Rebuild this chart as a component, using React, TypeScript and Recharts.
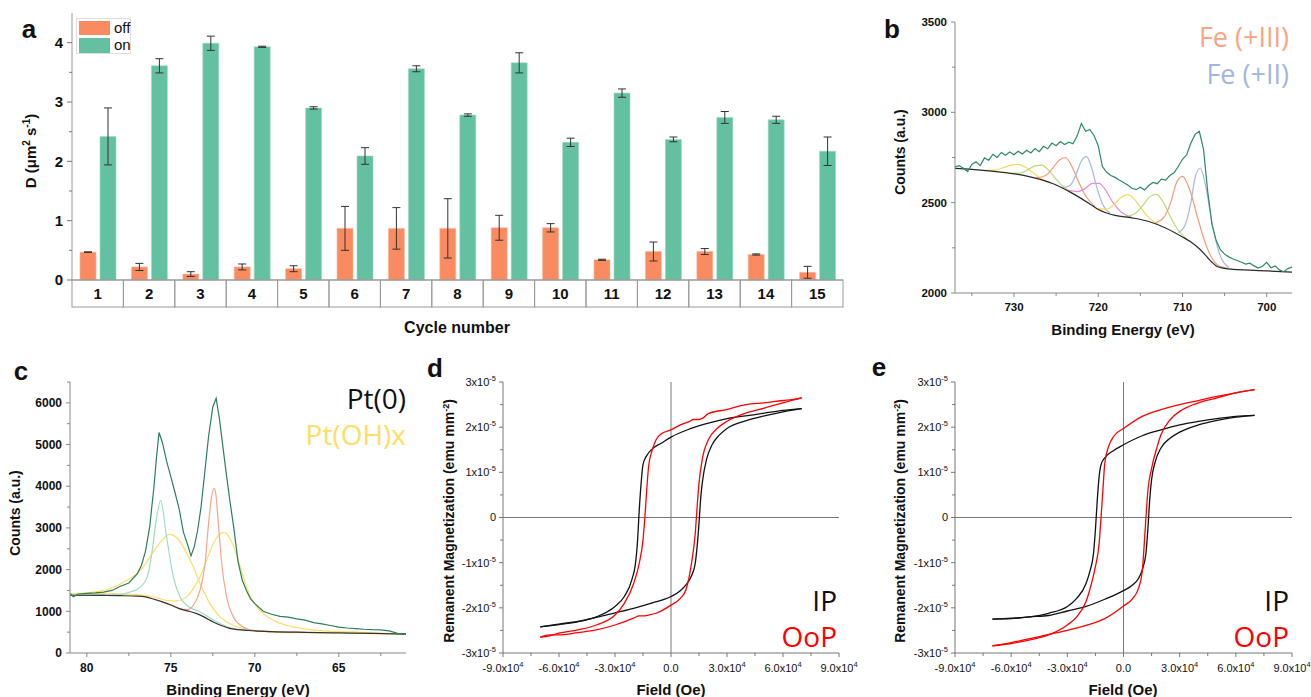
import React from 'react';
import { BarChart, Bar, ErrorBar, LineChart, Line, XAxis, YAxis, ReferenceLine } from 'recharts';

const FONT = '"Liberation Sans", Arial, sans-serif';
const ANNOT = '"Open Sans", "Noto Sans", sans-serif';

// ---------------- panel a ----------------
const cycles = ['1', '2', '3', '4', '5', '6', '7', '8', '9', '10', '11', '12', '13', '14', '15'];
const offValues = [0.47, 0.22, 0.1, 0.22, 0.19, 0.87, 0.87, 0.87, 0.88, 0.88, 0.34, 0.48, 0.48, 0.43, 0.13];
const offErrors = [0.005, 0.06, 0.04, 0.05, 0.05, 0.37, 0.35, 0.5, 0.21, 0.07, 0.01, 0.16, 0.05, 0.01, 0.1];
const onValues = [2.42, 3.61, 3.99, 3.93, 2.9, 2.09, 3.56, 2.78, 3.66, 2.32, 3.15, 2.37, 2.74, 2.7, 2.17];
const onErrors = [0.48, 0.12, 0.12, 0.01, 0.02, 0.14, 0.05, 0.02, 0.17, 0.07, 0.07, 0.04, 0.1, 0.06, 0.24];
const aYTicks = [0, 0.5, 1, 1.5, 2, 2.5, 3, 3.5, 4];

// ---------------- panel b (Fe 2p) ----------------
const bMeasured: number[][] = [
  [737, 2698], [736.5, 2705], [736, 2690], [735.5, 2672], [735, 2712], [734.5, 2726], [734, 2705], [733.5, 2748],
  [733, 2735], [732.5, 2768], [732, 2750], [731.5, 2778], [731, 2762], [730.5, 2780], [730, 2765], [729.5, 2785],
  [729, 2770], [728.5, 2790], [728, 2775], [727.5, 2800], [727, 2782], [726.5, 2812], [726, 2798], [725.5, 2830],
  [725, 2815], [724.5, 2838], [724, 2822], [723.5, 2835], [723, 2826], [722.5, 2870], [722, 2938], [721.5, 2895],
  [721, 2905], [720.5, 2872], [720, 2815], [719.5, 2700], [719, 2668], [718.5, 2650], [718, 2640], [717.5, 2625],
  [717, 2612], [716.5, 2598], [716, 2580], [715.5, 2572], [715, 2585], [714.5, 2570], [714, 2595], [713.5, 2612],
  [713, 2605], [712.5, 2630], [712, 2625], [711.5, 2650], [711, 2665], [710.5, 2700], [710, 2740], [709.5, 2765],
  [709, 2830], [708.5, 2878], [708, 2895], [707.5, 2795], [707, 2560], [706.5, 2380], [706, 2290], [705.5, 2240],
  [705, 2215], [704.5, 2200], [704, 2188], [703.5, 2180], [703, 2170], [702.5, 2160], [702, 2165], [701.5, 2150],
  [701, 2138], [700.5, 2148], [700, 2170], [699.5, 2140], [699, 2150], [698.5, 2128], [698, 2118], [697.5, 2135],
  [697, 2144],
];
const bBackground: number[][] = [
  [737, 2690], [735, 2684], [733, 2676], [731, 2666], [729, 2652], [727, 2630], [725, 2598], [723, 2550],
  [721, 2493], [720, 2462], [719, 2443], [718, 2430], [716, 2416], [714, 2396], [712, 2360], [710, 2310],
  [709, 2282], [708, 2245], [707, 2195], [706.5, 2170], [706, 2150], [705, 2136], [704, 2131], [702, 2127],
  [700, 2122], [697, 2116],
];
const bFe1: number[][] = [[725.6, 2609], [726.8, 2634], [727.8, 2668], [728.7, 2697], [729.5, 2712], [730.3, 2708], [731.2, 2695], [732.2, 2680], [733.4, 2679]];
const bFe2: number[][] = [[723.1, 2554], [724.2, 2591], [725.1, 2636], [725.9, 2680], [726.7, 2708], [727.5, 2704], [728.3, 2684], [729.2, 2664], [730.3, 2663]];
const bFe3: number[][] = [[720.4, 2478], [721.5, 2538], [722.4, 2623], [723.15, 2703], [723.9, 2750], [724.65, 2735], [725.4, 2691], [726.3, 2649], [727.4, 2638]];
const bFe4: number[][] = [[718.6, 2441], [719.5, 2493], [720.2, 2590], [720.8, 2696], [721.4, 2755], [722.0, 2731], [722.6, 2660], [723.3, 2597], [724.2, 2583]];
const bFe5: number[][] = [[716.1, 2420], [717.3, 2449], [718.3, 2504], [719.1, 2568], [719.9, 2607], [720.7, 2607], [721.5, 2580], [722.5, 2561], [723.7, 2569]];
const bFe6: number[][] = [[712.9, 2381], [714.0, 2417], [714.9, 2468], [715.7, 2518], [716.5, 2544], [717.3, 2529], [718.1, 2492], [719.0, 2464], [720.1, 2467]];
const bFe7: number[][] = [[709.5, 2299], [710.6, 2353], [711.5, 2428], [712.3, 2504], [713.1, 2546], [713.9, 2532], [714.7, 2485], [715.6, 2440], [716.7, 2423]];
const bFe8: number[][] = [[704.5, 2137], [705.8, 2154], [707.15, 2258], [708.2, 2416], [709.1, 2566], [710.0, 2646], [710.7, 2611], [711.4, 2500], [712.2, 2419], [713.2, 2389]];
const bFe9: number[][] = [[704.5, 2142], [705.6, 2217], [706.5, 2389], [707.2, 2581], [707.9, 2692], [708.5, 2639], [709.0, 2501], [709.7, 2374], [710.5, 2333]];
const bComponents = [
  { pts: bFe1, color: '#F2DC5D' },
  { pts: bFe2, color: '#B9DC73' },
  { pts: bFe3, color: '#F59A78' },
  { pts: bFe4, color: '#A6B6E2' },
  { pts: bFe5, color: '#E58ED6' },
  { pts: bFe6, color: '#F2DC5D' },
  { pts: bFe7, color: '#B9DC73' },
  { pts: bFe8, color: '#F59A78' },
  { pts: bFe9, color: '#A6B6E2' },
];
const bXTicks = [700, 705, 710, 715, 720, 725, 730, 735];
const bYTicks = [2000, 2250, 2500, 2750, 3000, 3250, 3500];

// ---------------- panel c (Pt 4f) ----------------
const cMeasured: number[][] = [
  [81, 1430], [80.8, 1350], [80.5, 1415], [80, 1430], [79.5, 1440], [79, 1460], [78.5, 1500], [78, 1600],
  [77.5, 1680], [77, 1900], [76.75, 2100], [76.5, 2450], [76.25, 3050], [76, 4000], [75.85, 4700], [75.7, 5290],
  [75.5, 5050], [75.25, 4600], [75, 4230], [74.75, 3850], [74.5, 3450], [74.25, 2900], [74, 2600], [73.8, 2330],
  [73.6, 2550], [73.4, 2950], [73.2, 3500], [73, 4250], [72.75, 5200], [72.5, 5900], [72.3, 6110], [72.1, 5600],
  [71.9, 4950], [71.7, 4310], [71.5, 3700], [71.25, 3000], [71, 2200], [70.75, 1750], [70.5, 1500], [70.25, 1300],
  [70, 1185], [69.5, 1000], [69, 930], [68.5, 880], [68, 860], [67.5, 820], [67, 790], [66.5, 730],
  [66, 700], [65.5, 660], [65, 620], [64.5, 600], [64, 585], [63.5, 570], [63, 560], [62.5, 555],
  [62, 530], [61.5, 470], [61, 460],
];
const cBackground: number[][] = [
  [81, 1385], [79, 1380], [78, 1375], [77, 1365], [76.5, 1345], [76, 1290], [75.5, 1225], [75, 1150],
  [74.5, 1065], [74, 1010], [73.5, 950], [73, 860], [72.5, 750], [72, 660], [71.5, 590], [71, 560],
  [70.5, 545], [70, 530], [69, 512], [67, 495], [65, 482], [63, 470], [61, 452],
];
const cPt0a: number[][] = [
  [81, 1390], [78, 1400], [77.4, 1466], [76.8, 1586], [76.4, 1826], [76.1, 2467], [75.9, 3108], [75.6, 3653],
  [75.25, 2787], [74.85, 1826], [74.45, 1346], [74.05, 1145], [73.25, 985], [72.5, 800], [71.5, 610], [70.5, 550], [69, 512],
];
const cPt0b: number[][] = [
  [76, 1290], [75, 1152], [74.5, 1070], [74, 1040], [73.66, 1145], [73.26, 1506], [72.96, 2147], [72.77, 3028],
  [72.6, 3669], [72.42, 3949], [72.3, 3749], [72.17, 3108], [71.97, 2147], [71.68, 1346], [71.28, 865], [70.69, 625],
  [70.1, 545], [69, 512], [67, 497],
];
const cOHa: number[][] = [
  [81, 1420], [80, 1442], [78.6, 1546], [77.6, 1746], [76.8, 1986], [76.1, 2387], [75.6, 2667], [75.1, 2844],
  [74.6, 2747], [74.15, 2467], [73.66, 2066], [73.26, 1666], [72.67, 1185], [72.07, 865], [71.28, 665], [70.1, 545],
  [68.3, 490], [65, 482], [61, 455],
];
const cOHb: number[][] = [
  [81, 1426], [79.2, 1426], [77.2, 1402], [76.23, 1362], [75.64, 1306], [75.15, 1250], [74.65, 1250], [74.05, 1346],
  [73.66, 1546], [73.26, 1826], [72.87, 2227], [72.47, 2627], [71.85, 2892], [71.48, 2747], [71.08, 2347], [70.69, 1826],
  [70.3, 1386], [69.7, 1025], [68.9, 785], [67.7, 625], [66.3, 545], [64.3, 505], [61, 449],
];
const cXTicks = [62.5, 65, 67.5, 70, 72.5, 75, 77.5, 80];
const cYTicks = [0, 500, 1000, 1500, 2000, 2500, 3000, 3500, 4000, 4500, 5000, 5500, 6000, 6500];

// ---------------- panels d, e (field in Oe, magnetization in 1e-5 emu mm^-2) ----------------
const dIPdown: number[][] = [
  [-70000, -2.42], [-60000, -2.37], [-50000, -2.31], [-40000, -2.2], [-30000, -1.97], [-25000, -1.75], [-21000, -1.38],
  [-19000, -1.01], [-18000, -0.57], [-17000, 0.17], [-16000, 0.76], [-15000, 1.17], [-13000, 1.37], [-10000, 1.52],
  [-5000, 1.65], [0, 1.78], [10000, 1.96], [20000, 2.09], [30000, 2.19], [40000, 2.25], [50000, 2.31], [60000, 2.37], [70000, 2.41],
];
const dIPup: number[][] = [
  [-70000, -2.42], [-60000, -2.36], [-50000, -2.3], [-40000, -2.21], [-30000, -2.11], [-20000, -2.01], [-10000, -1.89],
  [0, -1.75], [5000, -1.62], [8000, -1.49], [11000, -1.29], [13000, -1.01], [14000, -0.64], [15000, -0.13], [16000, 0.47],
  [17000, 0.84], [19000, 1.28], [22000, 1.61], [26000, 1.83], [30000, 1.97], [40000, 2.14], [50000, 2.25], [60000, 2.34], [70000, 2.41],
];
const dOoPdown: number[][] = [
  [-70000, -2.65], [-65000, -2.62], [-60000, -2.56], [-50000, -2.49], [-40000, -2.38], [-30000, -2.16], [-25000, -1.9],
  [-20000, -1.46], [-17000, -1.01], [-15000, -0.5], [-14000, 0], [-13000, 0.61], [-12000, 1.13], [-10000, 1.5],
  [-8000, 1.72], [-5000, 1.86], [0, 1.94], [5000, 2.05], [10000, 2.13], [12000, 2.17], [15000, 2.17], [17000, 2.2],
  [20000, 2.3], [30000, 2.39], [40000, 2.5], [50000, 2.54], [60000, 2.59], [65000, 2.61], [70000, 2.65],
];
const dOoPup: number[][] = [
  [-70000, -2.65], [-65000, -2.6], [-60000, -2.6], [-50000, -2.55], [-40000, -2.49], [-30000, -2.38], [-20000, -2.23],
  [-17000, -2.18], [-15000, -2.18], [-12000, -2.16], [-8000, -2.12], [0, -1.94], [5000, -1.79], [8000, -1.6],
  [11000, -1.01], [13000, -0.35], [14000, 0.24], [15000, 0.76], [17000, 1.35], [20000, 1.72], [25000, 1.98],
  [30000, 2.13], [40000, 2.31], [50000, 2.42], [60000, 2.54], [70000, 2.65],
];
const eIPdown: number[][] = [
  [-70000, -2.25], [-60000, -2.23], [-50000, -2.2], [-40000, -2.12], [-30000, -1.97], [-25000, -1.79], [-20000, -1.46],
  [-18000, -1.2], [-16000, -0.79], [-15000, -0.27], [-14000, 0.39], [-13000, 0.91], [-12000, 1.17], [-10000, 1.32],
  [-5000, 1.49], [0, 1.61], [10000, 1.81], [20000, 1.94], [30000, 2.05], [40000, 2.13], [50000, 2.19], [60000, 2.24], [70000, 2.26],
];
const eIPup: number[][] = [
  [-70000, -2.25], [-60000, -2.24], [-50000, -2.2], [-40000, -2.17], [-30000, -2.07], [-20000, -1.97], [-10000, -1.81],
  [0, -1.62], [5000, -1.49], [8000, -1.35], [10000, -1.16], [12000, -0.79], [13000, -0.27], [14000, 0.39], [15000, 0.84],
  [17000, 1.24], [20000, 1.54], [25000, 1.76], [30000, 1.89], [40000, 2.05], [50000, 2.15], [60000, 2.22], [70000, 2.26],
];
const eOoPdown: number[][] = [
  [-70000, -2.84], [-60000, -2.79], [-50000, -2.71], [-40000, -2.6], [-30000, -2.38], [-25000, -2.2], [-20000, -1.86],
  [-18000, -1.6], [-15000, -1.09], [-13000, -0.57], [-12000, 0], [-11000, 0.61], [-10000, 1.2], [-8000, 1.57],
  [-5000, 1.81], [0, 1.97], [10000, 2.24], [20000, 2.39], [30000, 2.5], [40000, 2.59], [50000, 2.68], [60000, 2.76], [70000, 2.83],
];
const eOoPup: number[][] = [
  [-70000, -2.84], [-60000, -2.77], [-50000, -2.68], [-40000, -2.59], [-30000, -2.5], [-20000, -2.39], [-10000, -2.24],
  [0, -1.96], [5000, -1.79], [8000, -1.57], [10000, -1.2], [11000, -0.64], [12000, 0], [13000, 0.58], [15000, 1.09],
  [18000, 1.57], [20000, 1.83], [25000, 2.17], [30000, 2.35], [40000, 2.54], [50000, 2.65], [60000, 2.76], [70000, 2.83],
];
const magXTicks = [-90000, -75000, -60000, -45000, -30000, -15000, 0, 15000, 30000, 45000, 60000, 75000, 90000];
const magYTicks = [-3, -2.5, -2, -1.5, -1, -0.5, 0, 0.5, 1, 1.5, 2, 2.5, 3];

// ---------------- helpers ----------------
const toPts = (arr: number[][]) => arr.map(([x, y]) => ({ x, y }));
const isMult = (v: number, s: number) => Math.abs(v / s - Math.round(v / s)) < 1e-6;

type TickCfg = {
  side: 'left' | 'right' | 'top' | 'bottom';
  step: number;
  majorLen: number;
  minorLen: number;
  label?: (v: number) => React.ReactNode;
  fontSize?: number;
  fontWeight?: number | string;
  pad?: number;
  color?: string;
};

function makeTick(cfg: TickCfg) {
  return (props: any) => {
    const { x, y, payload } = props;
    const v = Number(payload.value);
    const major = isMult(v, cfg.step);
    const len = major ? cfg.majorLen : cfg.minorLen;
    const pad = cfg.pad ?? 3;
    let x2 = x, y2 = y, tx = x, ty = y;
    let anchor: any = 'middle';
    let dy = '0.35em';
    if (cfg.side === 'left') { x2 = x - len; tx = x2 - pad; anchor = 'end'; }
    else if (cfg.side === 'right') { x2 = x + len; tx = x2 + pad; anchor = 'start'; }
    else if (cfg.side === 'bottom') { y2 = y + len; ty = y2 + pad; dy = '0.8em'; }
    else { y2 = y - len; ty = y2 - pad; dy = '0em'; }
    return (
      <g>
        <line x1={x} y1={y} x2={x2} y2={y2} stroke={cfg.color ?? '#777'} strokeWidth={1} />
        {major && cfg.label ? (
          <text x={tx} y={ty} dy={dy} textAnchor={anchor} fontSize={cfg.fontSize ?? 11}
            fontWeight={cfg.fontWeight ?? 'normal'} fill="#111" fontFamily={FONT}>
            {cfg.label(v)}
          </text>
        ) : null}
      </g>
    );
  };
}

const A_W = 860, A_ML = 22, A_YW = 50, A_MR = 17;
const A_BAND = (A_W - A_ML - A_YW - A_MR) / cycles.length;
const GRAY_A = '#9a9a9a';

const CategoryTick = (props: any) => {
  const { x, y, payload } = props;
  return (
    <g>
      <rect x={x - A_BAND / 2} y={y} width={A_BAND} height={27} fill="none" stroke={GRAY_A} strokeWidth={1} />
      <text x={x} y={y + 14} dy="0.35em" textAnchor="middle" fontSize={15} fontWeight="bold" fill="#111" fontFamily={FONT}>
        {payload.value}
      </text>
    </g>
  );
};

const supLabel = (base: string, sup: string) => (
  <>
    {base}
    <tspan dy={-5} fontSize={7.5}>{sup}</tspan>
  </>
);
const magXLabel = (v: number) => (v === 0 ? '0.0' : supLabel(`${(v / 10000).toFixed(1)}x10`, '4'));
const magYLabel = (v: number) => (v === 0 ? '0' : supLabel(`${v}x10`, '-5'));

// ---------------- text helpers ----------------
const Abs = ({ left, top, children, style }: any) => (
  <div style={{ position: 'absolute', left, top, transform: 'translate(-50%, -50%)', whiteSpace: 'nowrap', lineHeight: 1, ...style }}>
    {children}
  </div>
);
const Rot = ({ left, top, children, style }: any) => (
  <div style={{ position: 'absolute', left, top, transform: 'translate(-50%, -50%) rotate(-90deg)', whiteSpace: 'nowrap', lineHeight: 1, ...style }}>
    {children}
  </div>
);
const RightText = ({ right, top, color, size, children }: any) => (
  <div style={{ position: 'absolute', right: 1311 - right, top, transform: 'translateY(-50%)', whiteSpace: 'nowrap', lineHeight: 1,
    fontFamily: ANNOT, fontSize: size, color }}>
    {children}
  </div>
);
const Letter = ({ left, top, children }: any) => (
  <Abs left={left} top={top} style={{ fontSize: 26, fontWeight: 'bold', fontFamily: FONT }}>{children}</Abs>
);

// ---------------- panels ----------------
function PanelA() {
  const data = cycles.map((c, i) => ({ cycle: c, off: offValues[i], offErr: offErrors[i], on: onValues[i], onErr: onErrors[i] }));
  return (
    <div style={{ position: 'absolute', left: 0, top: 0 }}>
      <BarChart width={A_W} height={345} data={data} margin={{ top: 13, right: A_MR, bottom: 38, left: A_ML }} barSize={16} barGap={4}>
        <XAxis dataKey="cycle" height={27} tickSize={0} tickMargin={0} tickLine={false} interval={0}
          axisLine={{ stroke: GRAY_A }} tick={CategoryTick} />
        <XAxis xAxisId="top" orientation="top" type="number" domain={[0, 1]} height={0} tick={false} tickLine={false}
          axisLine={{ stroke: GRAY_A }} />
        <YAxis width={A_YW} domain={[0, 4.5]} ticks={aYTicks} interval={0} tickSize={0} tickMargin={0} tickLine={false}
          axisLine={{ stroke: GRAY_A }}
          tick={makeTick({ side: 'left', step: 1, majorLen: 5, minorLen: 3, label: (v) => String(v), fontSize: 15, fontWeight: 'bold', pad: 4, color: '#777' })} />
        <YAxis yAxisId="right" orientation="right" width={0} domain={[0, 1]} tick={false} tickLine={false} axisLine={{ stroke: GRAY_A }} />
        <Bar dataKey="off" fill="#FA8A5F" stroke="#fbb89c" strokeWidth={0.6} isAnimationActive={false}>
          <ErrorBar dataKey="offErr" width={4} stroke="#333" strokeWidth={1} isAnimationActive={false} />
        </Bar>
        <Bar dataKey="on" fill="#63C1A1" stroke="#9fd9c4" strokeWidth={0.6} isAnimationActive={false}>
          <ErrorBar dataKey="onErr" width={4} stroke="#333" strokeWidth={1} isAnimationActive={false} />
        </Bar>
      </BarChart>
    </div>
  );
}

function PanelB() {
  return (
    <div style={{ position: 'absolute', left: 880, top: 0 }}>
      <LineChart width={431} height={345} margin={{ top: 22, right: 19, bottom: 22, left: 30 }}>
        <XAxis type="number" dataKey="x" reversed domain={[697, 737]} ticks={bXTicks} interval={0} height={30}
          allowDataOverflow tickSize={0} tickMargin={0} tickLine={false} axisLine={{ stroke: '#888' }}
          tick={makeTick({ side: 'bottom', step: 10, majorLen: 4, minorLen: 3, label: (v) => String(v), fontSize: 11.5, fontWeight: 'bold', pad: 5, color: '#888' })} />
        <XAxis xAxisId="top" orientation="top" type="number" domain={[0, 1]} height={0} tick={false} tickLine={false} axisLine={{ stroke: '#888' }} />
        <YAxis type="number" domain={[2000, 3500]} ticks={bYTicks} interval={0} width={45} allowDataOverflow
          tickSize={0} tickMargin={0} tickLine={false} axisLine={{ stroke: '#888' }}
          tick={makeTick({ side: 'left', step: 500, majorLen: 4, minorLen: 3, label: (v) => String(v), fontSize: 11.5, fontWeight: 'bold', pad: 4, color: '#888' })} />
        <YAxis yAxisId="right" orientation="right" width={0} domain={[0, 1]} tick={false} tickLine={false} axisLine={{ stroke: '#888' }} />
        {bComponents.map((c, i) => (
          <Line key={i} data={toPts(c.pts)} dataKey="y" type="monotone" stroke={c.color} strokeWidth={1.2} dot={false} isAnimationActive={false} />
        ))}
        <Line data={toPts(bBackground)} dataKey="y" type="monotone" stroke="#2a2a2a" strokeWidth={1.2} dot={false} isAnimationActive={false} />
        <Line data={toPts(bMeasured)} dataKey="y" type="linear" stroke="#2E8B62" strokeWidth={1.2} dot={false} isAnimationActive={false} />
      </LineChart>
    </div>
  );
}

function PanelC() {
  return (
    <div style={{ position: 'absolute', left: 0, top: 350 }}>
      <LineChart width={430} height={347} margin={{ top: 32, right: 24, bottom: 14, left: 25 }}>
        <XAxis type="number" dataKey="x" reversed domain={[61, 81]} ticks={cXTicks} interval={0} height={30}
          allowDataOverflow tickSize={0} tickMargin={0} tickLine={false} axisLine={{ stroke: '#888' }}
          tick={makeTick({ side: 'bottom', step: 5, majorLen: 4, minorLen: 3, label: (v) => String(v), fontSize: 12, fontWeight: 'bold', pad: 5, color: '#888' })} />
        <XAxis xAxisId="top" orientation="top" type="number" domain={[0, 1]} height={0} tick={false} tickLine={false} axisLine={{ stroke: '#888' }} />
        <YAxis type="number" domain={[0, 6500]} ticks={cYTicks} interval={0} width={45} allowDataOverflow
          tickSize={0} tickMargin={0} tickLine={false} axisLine={{ stroke: '#888' }}
          tick={makeTick({ side: 'left', step: 1000, majorLen: 4, minorLen: 3, label: (v) => String(v), fontSize: 12, fontWeight: 'bold', pad: 4, color: '#888' })} />
        <YAxis yAxisId="right" orientation="right" width={0} domain={[0, 1]} tick={false} tickLine={false} axisLine={{ stroke: '#888' }} />
        <Line data={toPts(cOHa)} dataKey="y" type="monotone" stroke="#FFDD66" strokeWidth={1.2} dot={false} isAnimationActive={false} />
        <Line data={toPts(cOHb)} dataKey="y" type="monotone" stroke="#FFDD66" strokeWidth={1.2} dot={false} isAnimationActive={false} />
        <Line data={toPts(cPt0a)} dataKey="y" type="monotone" stroke="#9EDCC2" strokeWidth={1.2} dot={false} isAnimationActive={false} />
        <Line data={toPts(cPt0b)} dataKey="y" type="monotone" stroke="#F7A48C" strokeWidth={1.2} dot={false} isAnimationActive={false} />
        <Line data={toPts(cBackground)} dataKey="y" type="monotone" stroke="#333" strokeWidth={1.2} dot={false} isAnimationActive={false} />
        <Line data={toPts(cMeasured)} dataKey="y" type="linear" stroke="#2E7D5B" strokeWidth={1.2} dot={false} isAnimationActive={false} />
      </LineChart>
    </div>
  );
}

function MagPanel({ left, width, marginLeft, marginRight, ipDown, ipUp, oopDown, oopUp }: any) {
  return (
    <div style={{ position: 'absolute', left, top: 350 }}>
      <LineChart width={width} height={347} margin={{ top: 32, right: marginRight, bottom: 14, left: marginLeft }}>
        <XAxis type="number" dataKey="x" domain={[-90000, 90000]} ticks={magXTicks} interval={0} height={30}
          allowDataOverflow tickSize={0} tickMargin={0} tickLine={false} axisLine={{ stroke: '#777' }}
          tick={makeTick({ side: 'bottom', step: 30000, majorLen: 4, minorLen: 3, label: magXLabel, fontSize: 11, pad: 6, color: '#777' })} />
        <XAxis xAxisId="top" orientation="top" type="number" domain={[-90000, 90000]} ticks={magXTicks} interval={0} height={0}
          allowDataOverflow tickSize={0} tickMargin={0} tickLine={false} axisLine={{ stroke: '#777' }}
          tick={makeTick({ side: 'top', step: 30000, majorLen: 4, minorLen: 3, color: '#777' })} />
        <YAxis type="number" domain={[-3, 3]} ticks={magYTicks} interval={0} width={45} allowDataOverflow
          tickSize={0} tickMargin={0} tickLine={false} axisLine={{ stroke: '#777' }}
          tick={makeTick({ side: 'left', step: 1, majorLen: 4, minorLen: 3, label: magYLabel, fontSize: 11, pad: 3, color: '#777' })} />
        <YAxis yAxisId="right" orientation="right" type="number" domain={[-3, 3]} ticks={magYTicks} interval={0} width={0}
          allowDataOverflow tickSize={0} tickMargin={0} tickLine={false} axisLine={{ stroke: '#777' }}
          tick={makeTick({ side: 'right', step: 1, majorLen: 4, minorLen: 3, color: '#777' })} />
        <ReferenceLine x={0} stroke="#777" strokeWidth={1} />
        <ReferenceLine y={0} stroke="#777" strokeWidth={1} />
        <Line data={toPts(ipDown)} dataKey="y" type="monotone" stroke="#111" strokeWidth={1.3} dot={false} isAnimationActive={false} />
        <Line data={toPts(ipUp)} dataKey="y" type="monotone" stroke="#111" strokeWidth={1.3} dot={false} isAnimationActive={false} />
        <Line data={toPts(oopDown)} dataKey="y" type="monotone" stroke="#FF0000" strokeWidth={1.3} dot={false} isAnimationActive={false} />
        <Line data={toPts(oopUp)} dataKey="y" type="monotone" stroke="#FF0000" strokeWidth={1.3} dot={false} isAnimationActive={false} />
      </LineChart>
    </div>
  );
}

export default function App() {
  const bold14 = { fontFamily: FONT, fontWeight: 'bold', fontSize: 14 };
  const bold15 = { fontFamily: FONT, fontWeight: 'bold', fontSize: 15 };
  return (
    <div style={{ position: 'absolute', left: 0, top: 0, width: 1311, height: 697, background: '#fff', overflow: 'hidden', fontFamily: FONT, color: '#111' }}>
      <PanelA />
      <PanelB />
      <PanelC />
      <MagPanel left={430} width={440} marginLeft={28} marginRight={31} ipDown={dIPdown} ipUp={dIPup} oopDown={dOoPdown} oopUp={dOoPup} />
      <MagPanel left={880} width={431} marginLeft={30} marginRight={19} ipDown={eIPdown} ipUp={eIPup} oopDown={eOoPdown} oopUp={eOoPup} />

      {/* panel a legend */}
      <div style={{ position: 'absolute', left: 76, top: 18, width: 55, height: 36, border: '1px solid #ddd', background: '#fff', boxSizing: 'border-box' }}>
        <div style={{ position: 'absolute', left: 2, top: 2, width: 31, height: 14, background: '#FA8A5F' }} />
        <div style={{ position: 'absolute', left: 2, top: 19, width: 31, height: 15, background: '#63C1A1' }} />
        <div style={{ position: 'absolute', left: 37, top: 1, fontSize: 15, lineHeight: '16px' }}>off</div>
        <div style={{ position: 'absolute', left: 37, top: 18, fontSize: 15, lineHeight: '16px' }}>on</div>
      </div>

      {/* axis titles */}
      <Rot left={30} top={151} style={bold15}>D (μm<sup style={{ fontSize: 10 }}>2</sup> s<sup style={{ fontSize: 10 }}>-1</sup>)</Rot>
      <Abs left={457} top={328} style={{ ...bold15, fontSize: 16 }}>Cycle number</Abs>
      <Rot left={900} top={152} style={bold14}>Counts (a.u.)</Rot>
      <Abs left={1123} top={329} style={bold15}>Binding Energy (eV)</Abs>
      <Rot left={15} top={513} style={bold14}>Counts (a.u.)</Rot>
      <Abs left={238} top={689} style={bold15}>Binding Energy (eV)</Abs>
      <Rot left={449} top={521} style={bold14}>Remanent Magnetization (emu mm<sup style={{ fontSize: 9 }}>-2</sup>)</Rot>
      <Abs left={671} top={689} style={bold15}>Field (Oe)</Abs>
      <Rot left={900} top={521} style={bold14}>Remanent Magnetization (emu mm<sup style={{ fontSize: 9 }}>-2</sup>)</Rot>
      <Abs left={1123} top={689} style={bold15}>Field (Oe)</Abs>

      {/* annotations */}
      <RightText right={1289} top={36} color="#F7A582" size={27}>Fe (+III)</RightText>
      <RightText right={1289} top={73} color="#A3B5E0" size={27}>Fe (+II)</RightText>
      <RightText right={406} top={398} color="#111" size={28}>Pt(0)</RightText>
      <RightText right={406} top={434} color="#FFDD66" size={28}>Pt(OH)x</RightText>
      <RightText right={837} top={600} color="#111" size={28}>IP</RightText>
      <RightText right={837} top={636} color="#FF0000" size={28}>OoP</RightText>
      <RightText right={1289} top={600} color="#111" size={28}>IP</RightText>
      <RightText right={1289} top={636} color="#FF0000" size={28}>OoP</RightText>

      {/* panel letters */}
      <Letter left={29} top={29}>a</Letter>
      <Letter left={892} top={29}>b</Letter>
      <Letter left={21} top={371}>c</Letter>
      <Letter left={435} top={368}>d</Letter>
      <Letter left={879} top={367}>e</Letter>
    </div>
  );
}
